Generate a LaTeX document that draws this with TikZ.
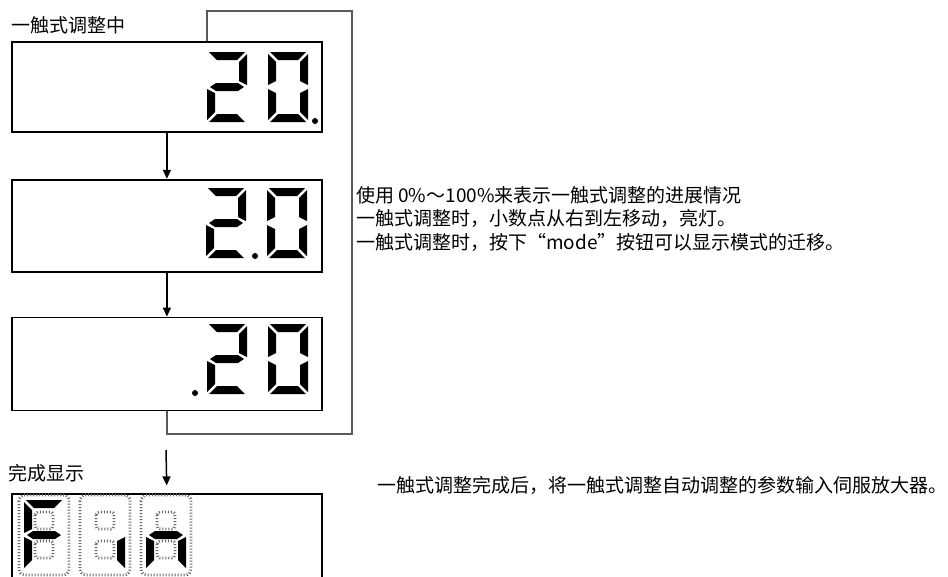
\documentclass[tikz,border=0pt]{standalone}
\usepackage{fontspec}
\newfontfamily\cjk{Noto Sans CJK SC}
\usetikzlibrary{arrows.meta, positioning}

% segments of one LCD digit (40 wide, 70 high)
\newcommand{\lcdsega}{\fill (2,0) -- (38,0) -- (30,8) -- (10,8) -- cycle;}
\newcommand{\lcdsegb}{\fill (40,2) -- (40,33) -- (32,29) -- (32,10) -- cycle;}
\newcommand{\lcdsegc}{\fill (40,37) -- (40,68) -- (32,60) -- (32,41) -- cycle;}
\newcommand{\lcdsegd}{\fill (2,70) -- (38,70) -- (30,62) -- (10,62) -- cycle;}
\newcommand{\lcdsege}{\fill (0,37) -- (0,68) -- (8,60) -- (8,41) -- cycle;}
\newcommand{\lcdsegf}{\fill (0,2) -- (0,33) -- (8,29) -- (8,10) -- cycle;}
\newcommand{\lcdsegg}{\fill (3,35) -- (9,31) -- (31,31) -- (37,35) -- (31,39) -- (9,39) -- cycle;}
\newcommand{\lcddigit}[3]{%
  \begin{scope}[shift={(#1,#2)}]
    \foreach \s in {#3} {\csname lcdseg\s\endcsname}
  \end{scope}}
\newcommand{\lcdframe}[2]{%
  \begin{scope}[shift={(#1,#2)}]
    \draw[segdots, rounded corners=6pt] (-5,-5) rectangle (45,75);
    \draw[segdots, rounded corners=3pt] (11,12) rectangle (29,29);
    \draw[segdots, rounded corners=3pt] (11,41) rectangle (29,58);
  \end{scope}}

\begin{document}
\begin{tikzpicture}[
    x=1pt, y=-1pt,
    node distance=46pt,
    lcdbox/.style={rectangle, draw=black, line width=1.8pt, minimum width=310pt, inner sep=0pt},
    arrow/.style={line width=1.5pt, -{Triangle[length=9pt, width=8pt]}},
    loopline/.style={draw=black!65, line width=1.6pt},
    segdots/.style={draw=black!60, line width=2.8pt, dash pattern=on 1pt off 2pt},
    note/.style={inner sep=0pt, font=\cjk\fontsize{19}{23.5}\selectfont, align=left}
]
    \useasboundingbox (0,0) rectangle (948,576);
    \clip (0,0) rectangle (948,576);

    \node (disp1) [lcdbox, minimum height=90pt, anchor=north west] at (11,41) {};
    \node (disp2) [lcdbox, minimum height=92pt, below=46pt of disp1] {};
    \node (disp3) [lcdbox, minimum height=93pt, below=44pt of disp2] {};
    \node (disp4) [lcdbox, minimum height=110pt, below=82pt of disp3] {};

    \node (tuning) [note, anchor=west] at (11,25) {一触式调整中};
    \node (done) [note, anchor=west] at (8,473) {完成显示};
    \node (explain) [note, anchor=west] at (356,218.5) {使用 0\%～100\%来表示一触式调整的进展情况\\一触式调整时，小数点从右到左移动，亮灯。\\一触式调整时，按下“mode”按钮可以显示模式的迁移。};
    \node (result) [note, anchor=west] at (377,485) {一触式调整完成后，将一触式调整自动调整的参数输入伺服放大器。};

    % 20.
    \lcddigit{207}{52}{a,b,g,e,d}
    \lcddigit{268}{52}{a,b,c,d,e,f}
    \fill (315,121) circle (3);
    % 2.0
    \lcddigit{206}{188}{a,b,g,e,d}
    \lcddigit{267}{188}{a,b,c,d,e,f}
    \fill (255,256) circle (3);
    % .20
    \lcddigit{207}{324}{a,b,g,e,d}
    \lcddigit{268}{324}{a,b,c,d,e,f}
    \fill (195,393) circle (3);
    % Fin
    \lcdframe{24}{500}
    \lcdframe{85}{500}
    \lcdframe{146}{500}
    \lcddigit{24}{500}{a,f,g,e}
    \lcddigit{85}{500}{c}
    \lcddigit{146}{500}{g,e,c}

    \coordinate (loop se) at (352,434);
    \coordinate (loop ne) at (352,11);
    \coordinate (loop nw) at (207,11);
    \coordinate (fin in) at (166,450);

    \draw [arrow] (disp1.south) -- (disp2.north);
    \draw [arrow] (disp2.south) -- (disp3.north);
    \draw [loopline] (disp3.south) |- (loop se) -- (loop ne) -- (loop nw) -- (loop nw |- disp1.north);
    \draw [arrow, shorten >=8pt] (fin in) -- (disp4.north);
\end{tikzpicture}
\end{document}
